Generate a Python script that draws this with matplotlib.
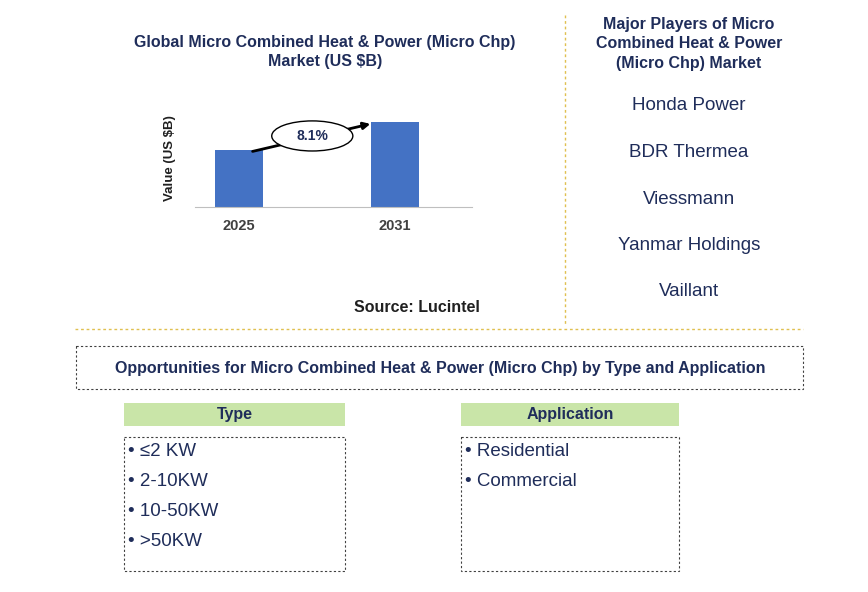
import matplotlib
matplotlib.use("Agg")
import matplotlib.pyplot as plt
from matplotlib.patches import Rectangle, Ellipse

plt.rcParams["font.family"] = "Liberation Sans"

years = ["2025", "2031"]
values = [2.6, 3.9]
cagr_label = "8.1%"
players = ["Honda Power", "BDR Thermea", "Viessmann", "Yanmar Holdings", "Vaillant"]
types = ["≤2 KW", "2-10KW", "10-50KW", ">50KW"]
applications = ["Residential", "Commercial"]

navy = "#1F2D5A"
fig = plt.figure(figsize=(8.68, 5.92), dpi=100)
W, H = 868, 592

ov = fig.add_axes([0, 0, 1, 1])
ov.set_xlim(0, W); ov.set_ylim(H, 0); ov.axis("off")

ax = fig.add_axes([195/W, 1-207/H, (472-195)/W, (207-110)/H])
ax.bar(range(len(years)), values, width=0.31, color="#4472C4")
ax.set_xlim(-0.282, 1.494)
ax.set_ylim(0, 97/85*values[1])
ax.set_xticks(range(len(years)))
ax.set_xticklabels(years, fontsize=10.5, fontweight="bold", color="#404040")
ax.set_yticks([])
for s in ["top", "right", "left"]:
    ax.spines[s].set_visible(False)
ax.spines["bottom"].set_color("#BFBFBF")
ax.tick_params(axis="x", length=0, pad=9)
ax.set_ylabel("Value (US $B)", fontsize=9.5, fontweight="bold", color="#202020", labelpad=14)
ax.annotate("", xy=(0.86, values[1]*0.985), xytext=(0.07, values[0]*0.97),
            arrowprops=dict(arrowstyle="-|>", color="black", lw=2))
ax.add_patch(Ellipse((0.47, 3.26), 0.52, 1.38, facecolor="white", edgecolor="black", lw=1, zorder=5))
ax.text(0.47, 3.26, cagr_label, ha="center", va="center", fontsize=10, fontweight="bold", color=navy, zorder=6)

ov.text(325, 52, "Global Micro Combined Heat & Power (Micro Chp)\nMarket (US $B)", ha="center", va="center",
        fontsize=11.5, fontweight="bold", color=navy, linespacing=1.4)
ov.text(417, 308, "Source: Lucintel", ha="center", va="center", fontsize=11.5, fontweight="bold", color="#202020")

ov.plot([565, 565], [15, 325], color="#E0C050", lw=1, ls=(0, (2, 2)))
ov.plot([75, 803], [329, 329], color="#E0C050", lw=1, ls=(0, (2, 2)))

ov.text(689, 44, "Major Players of Micro\nCombined Heat & Power\n(Micro Chp) Market", ha="center", va="center",
        fontsize=11.5, fontweight="bold", color=navy, linespacing=1.35)
for i, p in enumerate(players):
    ov.text(689, 106 + i*46.5, p, ha="center", va="center", fontsize=13.5, color=navy)

ov.add_patch(Rectangle((76, 346), 727, 43, fill=False, edgecolor="#404040", lw=0.8, ls=(0, (2, 2))))
ov.text(440, 368, "Opportunities for Micro Combined Heat & Power (Micro Chp) by Type and Application",
        ha="center", va="center", fontsize=11.5, fontweight="bold", color=navy)

def column(x0, x1, title, items):
    ov.add_patch(Rectangle((x0, 403), x1-x0, 23, facecolor="#C9E5A8", edgecolor="none"))
    ov.text((x0+x1)/2, 415, title, ha="center", va="center", fontsize=11.5, fontweight="bold", color=navy)
    ov.add_patch(Rectangle((x0, 437), x1-x0, 134, fill=False, edgecolor="#404040", lw=0.8, ls=(0, (2, 2))))
    for i, it in enumerate(items):
        ov.text(x0+4, 452 + i*30, "• " + it, ha="left", va="center", fontsize=13.5, color=navy)

column(124, 345, "Type", types)
column(461, 679, "Application", applications)

fig.savefig("out.png", dpi=100)
